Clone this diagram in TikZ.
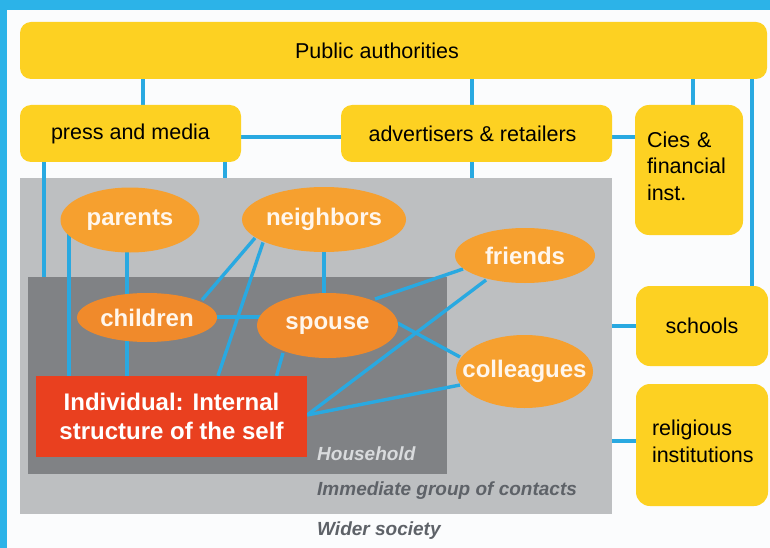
\documentclass[tikz,border=0pt]{standalone}
\usepackage{fontspec}
\setmainfont{Liberation Sans}
\usetikzlibrary{shapes.geometric,calc}
\definecolor{band}{HTML}{2CB3E8}
\definecolor{paper}{HTML}{FBFCFD}
\definecolor{lnblue}{HTML}{29A9E1}
\definecolor{yel}{HTML}{FDD122}
\definecolor{immgray}{HTML}{BDBFC1}
\definecolor{hhgray}{HTML}{808285}
\definecolor{redbox}{HTML}{E9401F}
\definecolor{orA}{HTML}{F6A02F}
\definecolor{orB}{HTML}{F08A2B}
\definecolor{etext}{HTML}{FFF6EC}
\definecolor{hhtext}{HTML}{D9DBDD}
\definecolor{immtext}{HTML}{5E6268}
\pgfdeclarelayer{bg}
\pgfdeclarelayer{ln}
\pgfsetlayers{bg,ln,main}
\newcommand{\regfont}{\fontsize{21.5}{26.5}\selectfont}
\newcommand{\boldfnt}{\bfseries\fontsize{24}{29}\selectfont}
\newcommand{\lblfont}{\bfseries\itshape\fontsize{19}{22}\selectfont}
\tikzset{
  ybox/.style={rectangle, rounded corners=11pt, fill=yel, inner sep=0pt, font=\regfont, text=black},
  ell/.style={ellipse, inner sep=0pt, font=\boldfnt, text=etext},
  rbox/.style={rectangle, fill=redbox, inner sep=0pt, font=\boldfnt, text=white},
  region/.style={rectangle, inner sep=0pt},
  lbl/.style={anchor=west, inner sep=0pt, font=\lblfont},
  conn/.style={draw=lnblue, line width=3.4pt}
}
\begin{document}
\begin{tikzpicture}[x=1pt,y=-1pt]
\useasboundingbox (0,0) rectangle (770,548);
\begin{pgfonlayer}{bg}
  \fill[band] (0,0) rectangle (770,548);
  \fill[paper] (7,10) rectangle (770,548);
  \node[region, fill=immgray, minimum width=592pt, minimum height=336pt] (imm) at (316,346) {};
  \node[region, fill=hhgray, minimum width=419pt, minimum height=197pt] (hh) at (237.5,375.5) {};
\end{pgfonlayer}

% outer boxes
\node[ybox, minimum width=747pt, minimum height=57pt] (pub) at (393.5,50.5) {\makebox[0pt]{\hspace*{-33pt}Public authorities}};
\node[ybox, minimum width=221pt, minimum height=57pt] (press) at (130.5,133.5) {press and media};
\node[ybox, minimum width=271pt, minimum height=57pt] (adv) at (476.5,133.5) {\makebox[0pt]{\hspace*{-8pt}advertisers \& retailers}};
\node[ybox, rounded corners=14pt, minimum width=108pt, minimum height=130pt, text width=84pt, inner xsep=12pt, align=left] (cies) at (689,170) {Cies \&\\financial\\inst.\strut};
\node[ybox, rounded corners=14pt, minimum width=132pt, minimum height=80pt] (sch) at (702,326) {schools};
\node[ybox, rounded corners=14pt, minimum width=132pt, minimum height=122pt, text width=100pt, inner xsep=16pt, align=left] (rel) at (702,445) {religious\\institutions\strut};

% inner nodes
\node[ell, fill=orA, minimum width=139pt, minimum height=65pt] (pa) at (130,220) {\makebox[0pt]{parents}};
\node[ell, fill=orA, minimum width=164pt, minimum height=65pt] (nb) at (324,219.5) {\makebox[0pt]{neighbors}};
\node[ell, fill=orB, minimum width=140pt, minimum height=49pt] (ch) at (147,317.5) {\makebox[0pt]{children}};
\node[ell, fill=orB, minimum width=141pt, minimum height=65pt] (sp) at (327.5,325.5) {\makebox[0pt]{spouse}};
\node[ell, fill=orA, minimum width=140pt, minimum height=55pt] (fr) at (525,255.5) {\makebox[0pt]{friends}};
\node[ell, fill=orA, minimum width=137pt, minimum height=73pt] (co) at (524.5,371.5) {\makebox[0pt]{colleagues}};
\node[rbox, minimum width=271pt, minimum height=81pt, align=center] (red) at (171.5,416.5) {Individual: Internal\\structure of the self};

% region labels
\node[lbl, text=hhtext] (hhl) at (317,454) {Household};
\node[lbl, text=immtext] (imml) at (317,491) {Immediate group of contacts};
\node[lbl, text=immtext] (wsl) at (317,531) {Wider society};

\begin{pgfonlayer}{ln}
  % outer connectors
  \draw[conn] ($(press.north)+(12.5,0)$) -- ($(pub.south)+(-250.5,0)$);
  \draw[conn] ($(adv.north)+(-4.5,0)$) -- ($(pub.south)+(78.5,0)$);
  \draw[conn] ($(cies.north)+(4,0)$) -- ($(pub.south)+(299.5,0)$);
  \draw[conn] ($(sch.north)+(50,0)$) -- ($(pub.south)+(358.5,0)$);
  \draw[conn] ($(press.east)+(0,3.5)$) -- ($(adv.west)+(0,3.5)$);
  \draw[conn] ($(adv.east)+(0,3.5)$) -- ($(cies.west)+(0,-33)$);
  \draw[conn] ($(press.south)+(-86.5,0)$) -- ($(hh.north)+(-193.5,0)$);
  \draw[conn] ($(press.south)+(94.5,0)$) -- ($(imm.north)+(-91,0)$);
  \draw[conn] ($(adv.south)+(-4.5,0)$) -- ($(imm.north)+(156,0)$);
  \draw[conn] ($(imm.east)+(0,-20)$) -- (sch.west);
  \draw[conn] ($(imm.east)+(0,95)$) -- ($(rel.west)+(0,-4)$);
  % inner connectors
  \draw[conn] ($(red.north)+(-102.5,0)$) -- ($(pa)+(-61,0)$);
  \draw[conn] ($(pa)+(-3,0)$) -- ($(ch)+(-20,0)$);
  \draw[conn] ($(ch)+(-20,0)$) -- ($(red.north)+(-44.5,0)$);
  \draw[conn] ($(nb)+(-69,18.5)$) -- ($(ch)+(55,-17.5)$);
  \draw[conn] ($(nb)+(-61,23)$) -- ($(red.north)+(46.5,0)$);
  \draw[conn] ($(ch)+(0,-0.5)$) -- ($(sp)+(0,-8.5)$);
  \draw[conn] (nb) -- ($(sp)+(-3.5,0)$);
  \draw[conn] ($(sp)+(-44.5,27.5)$) -- ($(red.north)+(105,0)$);
  \draw[conn] ($(sp)+(47.5,-26.5)$) -- ($(fr)+(-62,13.5)$);
  \draw[conn] ($(red.east)+(0,-1.5)$) -- ($(fr)+(-39,24.5)$);
  \draw[conn] ($(sp)+(70,-2.5)$) -- ($(co)+(-64.5,-14.5)$);
  \draw[conn] ($(red.east)+(0,-1.5)$) -- ($(co)+(-64.5,13.5)$);
\end{pgfonlayer}
\end{tikzpicture}
\end{document}
